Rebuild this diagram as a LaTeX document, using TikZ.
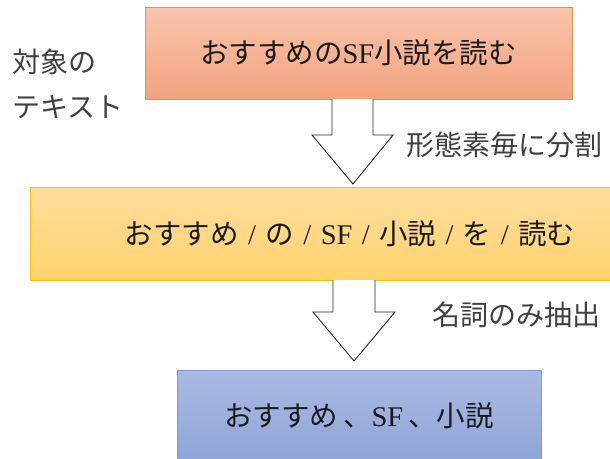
\documentclass[tikz,border=0pt]{standalone}
\usepackage{fontspec}
\setmainfont{Liberation Serif}
\newfontfamily\jp{Noto Sans CJK JP}
\newcommand\slsep{\hspace{0.33em}/\hspace{0.33em}}
\definecolor{oborder}{HTML}{F08A4B}
\definecolor{otop}{HTML}{F8C4AC}
\definecolor{obot}{HTML}{F3A37E}
\definecolor{yborder}{HTML}{FFC000}
\definecolor{ytop}{HTML}{FFDD9C}
\definecolor{ybot}{HTML}{FFD36E}
\definecolor{bborder}{HTML}{7C98D6}
\definecolor{btop}{HTML}{AABAE2}
\definecolor{bbot}{HTML}{8FA5D8}
\definecolor{labgray}{HTML}{404040}
\definecolor{boxtext}{HTML}{1A1A1A}
\tikzset{
  box/.style={draw, line width=1pt, inner sep=0pt, text=boxtext, font=\fontsize{28.5}{30}\selectfont},
  lab/.style={anchor=west, inner sep=0pt, text=labgray, font=\jp\fontsize{28}{30}\selectfont},
  blockarrow/.style={draw=black!85, fill=white, line width=0.9pt, line join=miter}
}
\begin{document}
\begin{tikzpicture}[x=1pt,y=-1pt]
\clip (0,0) rectangle (610,458);
\fill[white] (0,0) rectangle (610,458);
% boxes
\node[box, draw=oborder, top color=otop, bottom color=obot, minimum width=427pt, minimum height=92pt] (b1) at (358.5,53)
  {{\jp おすすめの}SF{\jp 小説を読む}};
\node[box, draw=yborder, top color=ytop, bottom color=ybot, minimum width=640pt, minimum height=93pt] (b2) at (350,233.5)
  {{\jp おすすめ}\slsep{\jp の}\slsep SF\slsep{\jp 小説}\slsep{\jp を}\slsep{\jp 読む}};
\node[box, draw=bborder, top color=btop, bottom color=bbot, minimum width=364pt, minimum height=92pt] (b3) at (359,416)
  {{\jp おすすめ}\,{\jp 、}SF\,{\jp 、小説}};
% block arrows
\draw[blockarrow] (332,99) -- (332,135) -- (312,135) -- (353,184) -- (393,135) -- (373,135) -- (373,99);
\draw[blockarrow] (333,280) -- (333,312) -- (313,312) -- (354,361) -- (395,312) -- (375,312) -- (375,280);
% labels
\node[lab] (l1) at (12,62) {対象の};
\node[lab] (l2) at (12,107) {テキスト};
\node[lab] (l3) at (406,145) {形態素毎に分割};
\node[lab] (l4) at (432,315) {名詞のみ抽出};
\end{tikzpicture}
\end{document}
